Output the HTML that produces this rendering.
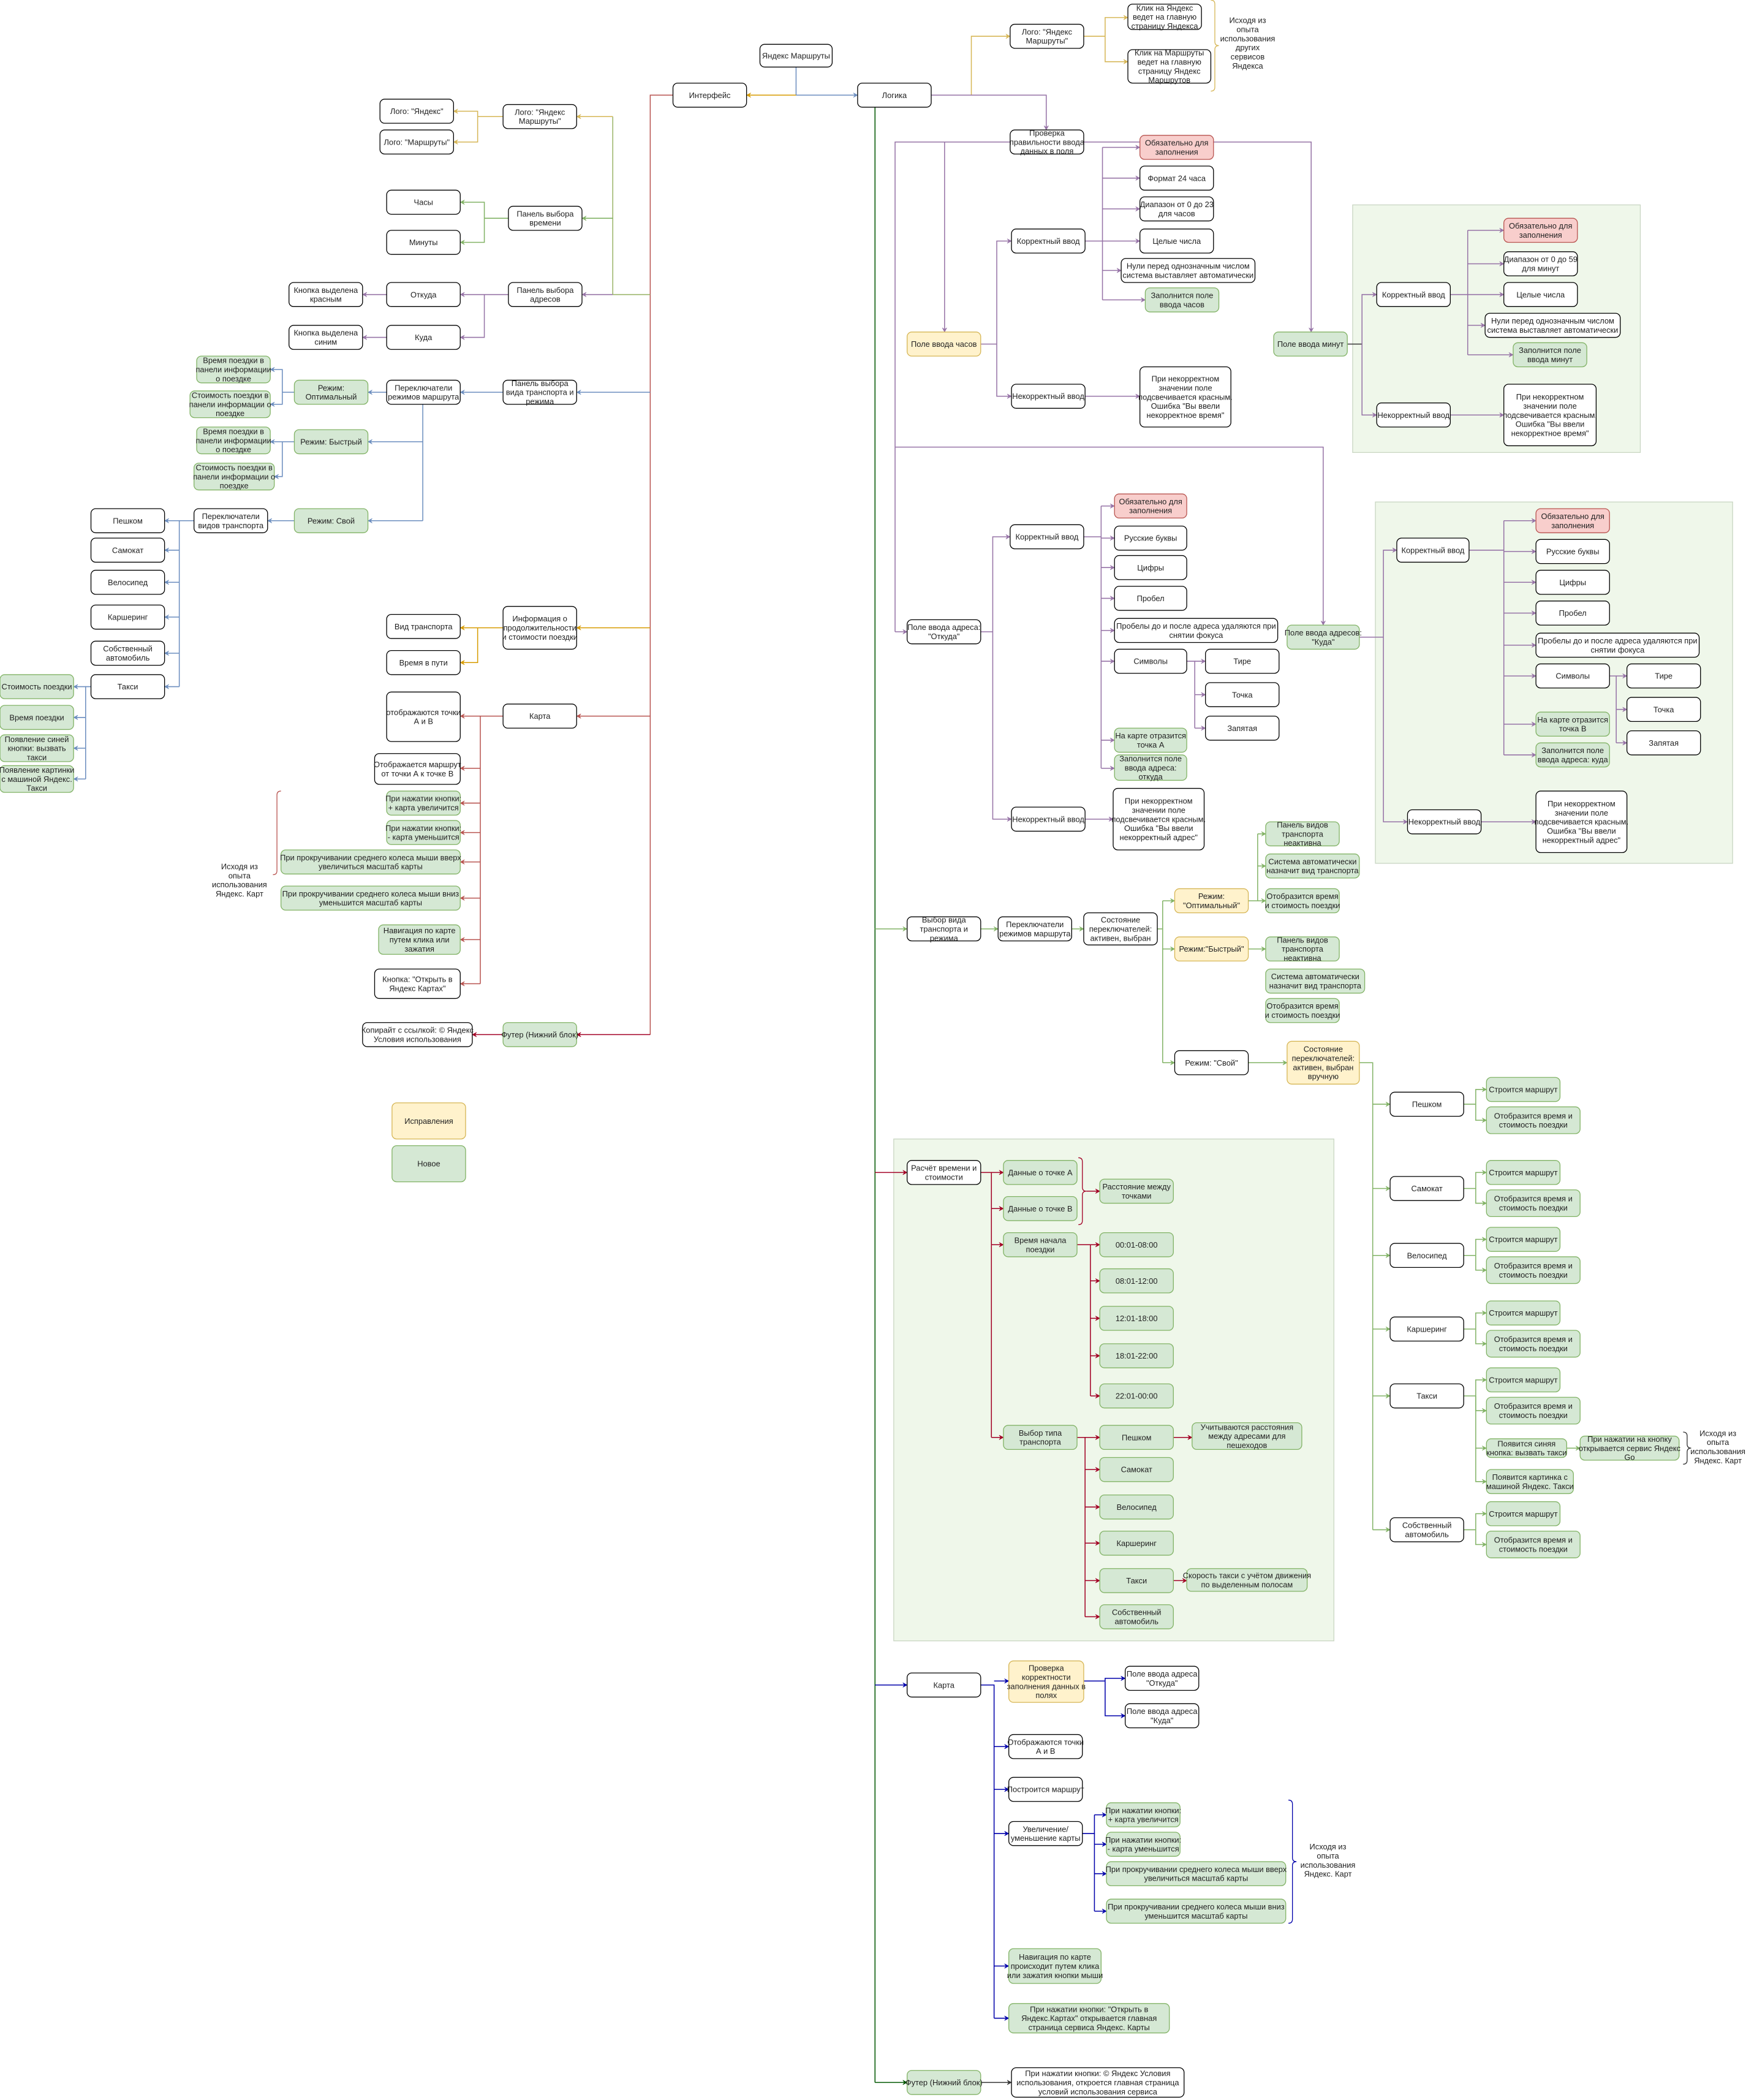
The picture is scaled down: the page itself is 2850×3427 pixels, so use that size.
<!DOCTYPE html>
<html><head><meta charset="utf-8">
<style>
html,body{margin:0;padding:0;background:#fff;}
svg{display:block;}
text{font-family:"Liberation Sans","Noto Sans CJK SC",sans-serif;font-size:5.9px;fill:#222;}
</style></head>
<body>
<svg id="s" xmlns="http://www.w3.org/2000/svg" width="2850" height="3427" viewBox="0 0 1305 1569">
<rect x="1011" y="153" width="215" height="185" fill="#eff7ea" stroke="#c9d6c3" stroke-width="0.6"/>
<rect x="1028" y="375" width="267" height="270" fill="#eff7ea" stroke="#c9d6c3" stroke-width="0.6"/>
<rect x="668" y="851" width="329" height="375" fill="#eff7ea" stroke="#c9d6c3" stroke-width="0.6"/>
<g id="edges" fill="none" stroke-width="0.7"></g>
<g id="nodes"></g>
</svg>
<script>
var NS="http://www.w3.org/2000/svg";
var svg=document.getElementById('s'),E=document.getElementById('edges'),Nd=document.getElementById('nodes');
var C={pu:"#9673a6",bl:"#6c8ebf",ye:"#d6b656",or:"#d79b00",re:"#b85450",gr:"#82b366",dr:"#a20025",dg:"#005700",nv:"#0000aa",ol:"#9bb56a",bk:"#333"};
function el(t,a,p){var e=document.createElementNS(NS,t);for(var k in a)e.setAttribute(k,a[k]);(p||svg).appendChild(e);return e;}
function line(c,pts,arrow){var d="M"+pts.map(function(p){return p[0]+","+p[1]}).join(" L");el('path',{d:d,stroke:C[c]},E);
 if(arrow){var a=pts[pts.length-1],b=pts[pts.length-2];var dx=a[0]-b[0],dy=a[1]-b[1],L=Math.sqrt(dx*dx+dy*dy)||1;dx/=L;dy/=L;
 var s=3.2,w=1.7;var p1=[a[0]-dx*s-dy*w,a[1]-dy*s+dx*w],p2=[a[0]-dx*s+dy*w,a[1]-dy*s-dx*w],p3=[a[0]-dx*s*0.6,a[1]-dy*s*0.6];
 el('path',{d:"M"+a+" L"+p1+" L"+p3+" L"+p2+" Z",fill:C[c],stroke:C[c],'stroke-width':0.3},E);}}
function A(c,pts){line(c,pts,true);}
function L(c,pts){line(c,pts,false);}
var ST={w:["#fff","#000"],g:["#d5e8d4","#82b366"],y:["#fff2cc","#d6b656"],r:["#f8cecc","#b85450"],t:["none","none"]};
function N(x1,y1,x2,y2,txt,s){s=s||'w';var st=ST[s];
 if(s!='t')el('rect',{x:x1,y:y1,width:x2-x1,height:y2-y1,rx:3.5,fill:st[0],stroke:st[1],'stroke-width':0.6},Nd);
 var lines=txt.split('|'),lh=6.8,cy=(y1+y2)/2,y0=cy-(lines.length-1)*lh/2+2.1;
 lines.forEach(function(l,i){var t=el('text',{x:(x1+x2)/2,y:y0+i*lh,'text-anchor':'middle'},Nd);t.textContent=l;});}
function brace(x,y1,y2,c,dir){dir=dir||1;var m=(y1+y2)/2,d=3*dir;
 el('path',{d:"M"+x+","+y1+" q"+d+",0 "+d+",3 L"+(x+d)+","+(m-3)+" q0,3 "+d+",3 q-"+d+",0 -"+d+",3 L"+(x+d)+","+(y2-3)+" q0,3 -"+d+",3",fill:"none",stroke:C[c],'stroke-width':0.6},E);}

// ===== TOP =====
N(568,33,622,50,"Яндекс Маршруты");
N(503,62,558,80,"Интерфейс");
N(641,62,696,80,"Логика");
L('bl',[[595,50],[595,71]]);A('or',[[595,71],[558,71]]);A('bl',[[595,71],[641,71]]);
N(755,18,810,36,"Лого: \"Яндекс|Маршруты\"");
N(843,3,898,22,"Клик на Яндекс|ведет на главную|страницу Яндекса");
N(843,37,905,62,"Клик на Маршруты|ведет на главную|страницу Яндекс|Маршрутов");
brace(905,0,68,'ye');
N(915,8,950,56,"Исходя из|опыта|использования|других|сервисов|Яндекса",'t');
A('ye',[[696,71],[726,71],[726,27],[755,27]]);
L('ye',[[810,27],[826,27]]);A('ye',[[826,27],[826,13],[843,13]]);A('ye',[[826,27],[826,46],[843,46]]);

// ===== LEFT (Interface) =====
L('re',[[503,71],[486,71],[486,773]]);
L('ol',[[486,220],[458,220],[458,87]]);
A('ye',[[458,87],[431,87]]);A('gr',[[458,163],[435,163]]);A('pu',[[458,220],[435,220]]);
N(376,78,431,96,"Лого: \"Яндекс|Маршруты\"");
N(284,74,339,92,"Лого: \"Яндекс\"");
N(284,97,339,115,"Лого: \"Маршруты\"");
L('ye',[[376,87],[357,87]]);A('ye',[[357,87],[357,83],[339,83]]);A('ye',[[357,87],[357,106],[339,106]]);
N(380,154,435,172,"Панель выбора|времени");
N(289,142,344,160,"Часы");N(289,172,344,190,"Минуты");
L('gr',[[380,163],[362,163]]);A('gr',[[362,163],[362,151],[344,151]]);A('gr',[[362,163],[362,181],[344,181]]);
N(380,211,435,229,"Панель выбора|адресов");
N(289,211,344,229,"Откуда");N(289,243,344,261,"Куда");
N(216,211,271,229,"Кнопка выделена|красным");N(216,243,271,261,"Кнопка выделена|синим");
L('pu',[[380,220],[362,220]]);A('pu',[[362,220],[344,220]]);A('pu',[[362,220],[362,252],[344,252]]);
A('pu',[[289,220],[271,220]]);A('pu',[[289,252],[271,252]]);
A('bl',[[486,293],[431,293]]);
N(376,284,431,302,"Панель выбора|вида транспорта и|режима");
A('bl',[[376,293],[344,293]]);
N(289,284,344,302,"Переключатели|режимов маршрута");
A('bl',[[289,293],[275,293]]);
L('bl',[[316,302],[316,389]]);A('bl',[[316,330],[275,330]]);A('bl',[[316,389],[275,389]]);
N(220,284,275,302,"Режим:|Оптимальный",'g');
N(147,266,202,286,"Время поездки в|панели информации|о поездке",'g');
N(142,292,202,312,"Стоимость поездки в|панели информации о|поездке",'g');
L('bl',[[220,293],[211,293]]);A('bl',[[211,293],[211,276],[202,276]]);A('bl',[[211,293],[211,302],[202,302]]);
N(220,321,275,339,"Режим: Быстрый",'g');
N(147,319,202,339,"Время поездки в|панели информации|о поездке",'g');
N(145,346,205,366,"Стоимость поездки в|панели информации о|поездке",'g');
L('bl',[[220,330],[211,330]]);A('bl',[[211,330],[202,330]]);A('bl',[[211,330],[211,356],[205,356]]);
N(220,380,275,398,"Режим: Свой",'g');
A('bl',[[220,389],[200,389]]);
N(145,380,200,398,"Переключатели|видов транспорта");
L('bl',[[145,389],[134,389],[134,513]]);
[["Пешком",380],["Самокат",402],["Велосипед",426],["Каршеринг",452],["Собственный|автомобиль",479],["Такси",504]].forEach(function(a){N(68,a[1],123,a[1]+18,a[0]);A('bl',[[134,a[1]+9],[123,a[1]+9]]);});
N(0,504,55,522,"Стоимость поездки",'g');N(0,527,55,545,"Время поездки",'g');
N(0,549,55,569,"Появление синей|кнопки: вызвать|такси",'g');N(0,572,55,592,"Появление картинки|с машиной Яндекс.|Такси",'g');
L('bl',[[68,513],[64,513],[64,582]]);[513,536,559,582].forEach(function(y){A('bl',[[64,y],[55,y]]);});
A('or',[[486,469],[431,469]]);
N(376,453,431,485,"Информация о|продолжительности|и стоимости поездки");
N(289,459,344,477,"Вид транспорта");N(289,486,344,504,"Время в пути");
L('or',[[376,469],[357,469]]);A('or',[[357,469],[344,469]]);A('or',[[357,469],[357,495],[344,495]]);
A('re',[[486,535],[431,535]]);
N(376,526,431,544,"Карта");
L('re',[[376,535],[359,535],[359,735]]);
N(289,517,344,554,"отображаются точки|А и В");
N(280,563,344,586,"Отображается маршрут|от точки А к точке В");
N(289,591,344,609,"При нажатии кнопки:|+ карта увеличится",'g');
N(289,613,344,631,"При нажатии кнопки:|- карта уменьшится",'g');
N(210,635,344,653,"При прокручивании среднего колеса мыши вверх|увеличиться масштаб карты",'g');
N(210,662,344,680,"При прокручивании среднего колеса мыши вниз|уменьшится масштаб карты",'g');
N(283,691,344,713,"Навигация по карте|путем клика или|зажатия",'g');
N(280,724,344,746,"Кнопка: \"Открыть в|Яндекс Картах\"");
[535,574,600,622,644,671,702,735].forEach(function(y){A('re',[[359,y],[344,y]]);});
brace(210,591,716,'re',-1);
N(160,640,198,675,"Исходя из|опыта|использования|Яндекс. Карт",'t');
A('dr',[[486,773],[431,773]]);
N(376,764,431,782,"Футер (Нижний блок)",'g');
A('dr',[[376,773],[353,773]]);
N(271,764,353,782,"Копирайт с ссылкой: © Яндекс|Условия использования");
N(293,824,348,851,"Исправления",'y');
N(293,856,348,883,"Новое",'g');

// ===== RIGHT: checks =====
A('pu',[[696,71],[782,71],[782,97]]);
N(755,97,810,115,"Проверка|правильности ввода|данных в поля");
L('pu',[[755,106],[669,106],[669,472]]);A('pu',[[669,472],[678,472]]);
A('pu',[[706,106],[706,248]]);
A('pu',[[669,334],[989,334],[989,467]]);
A('pu',[[810,106],[980,106],[980,248]]);
N(678,248,733,266,"Поле ввода часов",'y');
L('pu',[[733,257],[745,257]]);A('pu',[[745,257],[745,180],[756,180]]);A('pu',[[745,257],[745,296],[756,296]]);
N(756,171,811,189,"Корректный ввод");
L('pu',[[811,180],[824,180],[824,110]]);L('pu',[[824,180],[824,224]]);
[[852,110],[852,133],[852,156],[852,180],[838,202],[856,224]].forEach(function(p){A('pu',[[824,p[1]],p]);});
N(852,101,907,119,"Обязательно для|заполнения",'r');
N(852,124,907,142,"Формат 24 часа");
N(852,147,907,165,"Диапазон от 0 до 23|для часов");
N(852,171,907,189,"Целые числа");
N(838,193,938,211,"Нули перед однозначным числом|система выставляет автоматически");
N(856,215,911,233,"Заполнится поле|ввода часов",'g');
N(756,287,811,305,"Некорректный ввод");
A('pu',[[811,296],[852,296]]);
N(852,274,920,319,"При некорректном|значении поле|подсвечивается красным.|Ошибка \"Вы ввели|некорректное время\"");
// minutes panel
N(952,248,1007,266,"Поле ввода минут",'g');
L('bk',[[1007,257],[1018,257]]);A('pu',[[1018,257],[1018,220],[1029,220]]);A('pu',[[1018,257],[1018,310],[1029,310]]);
N(1029,211,1084,229,"Корректный ввод");
L('pu',[[1084,220],[1097,220],[1097,172]]);L('pu',[[1097,220],[1097,265]]);
[[1124,172],[1124,197],[1124,220],[1110,243],[1131,265]].forEach(function(p){A('pu',[[1097,p[1]],p]);});
N(1124,163,1179,181,"Обязательно для|заполнения",'r');
N(1124,188,1179,206,"Диапазон от 0 до 59|для минут");
N(1124,211,1179,229,"Целые числа");
N(1110,234,1211,252,"Нули перед однозначным числом|система выставляет автоматически");
N(1131,256,1186,274,"Заполнится поле|ввода минут",'g');
N(1029,301,1084,319,"Некорректный ввод");
A('pu',[[1084,310],[1124,310]]);
N(1124,287,1193,333,"При некорректном|значении поле|подсвечивается красным.|Ошибка \"Вы ввели|некорректное время\"");
// address from
N(678,463,733,481,"Поле ввода адреса:|\"Откуда\"");
L('pu',[[733,472],[742,472]]);A('pu',[[742,472],[742,401],[755,401]]);A('pu',[[742,472],[742,612],[756,612]]);
N(755,392,810,410,"Корректный ввод");
L('pu',[[810,401],[823,401],[823,378]]);L('pu',[[823,401],[823,574]]);
[378,402,424,447,471,494,553,574].forEach(function(y){A('pu',[[823,y],[833,y]]);});
N(833,369,887,387,"Обязательно для|заполнения",'r');
N(833,393,887,411,"Русские буквы");N(833,415,887,433,"Цифры");N(833,438,887,456,"Пробел");
N(833,462,955,480,"Пробелы до и после адреса удаляются при|снятии фокуса");
N(833,485,887,503,"Символы");
N(901,485,956,503,"Тире");N(901,510,956,528,"Точка");N(901,535,956,553,"Запятая");
L('pu',[[887,494],[893,494],[893,544]]);[494,519,544].forEach(function(y){A('pu',[[893,y],[901,y]]);});
N(833,544,887,562,"На карте отразится|точка А",'g');
N(833,564,887,583,"Заполнится поле|ввода адреса:|откуда",'g');
N(756,603,811,621,"Некорректный ввод");
A('pu',[[811,612],[832,612]]);
N(832,589,900,635,"При некорректном|значении поле|подсвечивается красным.|Ошибка \"Вы ввели|некорректный адрес\"");
// address to
N(962,467,1016,485,"Поле ввода адресов:|\"Куда\"",'g');
L('pu',[[1016,476],[1034,476]]);A('pu',[[1034,476],[1034,411],[1044,411]]);A('pu',[[1034,476],[1034,614],[1052,614]]);
N(1044,402,1098,420,"Корректный ввод");
L('pu',[[1098,411],[1124,411],[1124,389]]);L('pu',[[1124,411],[1124,564]]);
[389,412,435,458,482,505,541,564].forEach(function(y){A('pu',[[1124,y],[1148,y]]);});
N(1148,380,1203,398,"Обязательно для|заполнения",'r');
N(1148,403,1203,421,"Русские буквы");N(1148,426,1203,444,"Цифры");N(1148,449,1203,467,"Пробел");
N(1148,473,1270,491,"Пробелы до и после адреса удаляются при|снятии фокуса");
N(1148,496,1203,514,"Символы");
N(1216,496,1271,514,"Тире");N(1216,521,1271,539,"Точка");N(1216,546,1271,564,"Запятая");
L('pu',[[1203,505],[1208,505],[1208,555]]);[505,530,555].forEach(function(y){A('pu',[[1208,y],[1216,y]]);});
N(1148,532,1203,550,"На карте отразится|точка В",'g');
N(1148,555,1203,573,"Заполнится поле|ввода адреса: куда",'g');
N(1052,605,1107,623,"Некорректный ввод");
A('pu',[[1107,614],[1148,614]]);
N(1148,591,1216,637,"При некорректном|значении поле|подсвечивается красным.|Ошибка \"Вы ввели|некорректный адрес\"");

// ===== Logic spine =====
L('dg',[[654,80],[654,1556]]);
A('gr',[[654,694],[678,694]]);A('dr',[[654,876],[678,876]]);A('nv',[[654,1259],[678,1259]]);A('dg',[[654,1556],[678,1556]]);
N(678,685,733,703,"Выбор вида|транспорта и|режима");
A('gr',[[733,694],[746,694]]);
N(746,685,801,703,"Переключатели|режимов маршрута");
A('gr',[[801,694],[810,694]]);
N(810,682,865,706,"Состояние|переключателей:|активен, выбран");
L('gr',[[865,694],[869,694],[869,673]]);L('gr',[[869,694],[869,794]]);
[673,709,794].forEach(function(y){A('gr',[[869,y],[878,y]]);});
N(878,664,933,682,"Режим:|\"Оптимальный\"",'y');
L('gr',[[933,673],[940,673],[940,623]]);[623,647,673].forEach(function(y){A('gr',[[940,y],[946,y]]);});
N(946,614,1001,632,"Панель видов|транспорта|неактивна",'g');
N(946,638,1016,656,"Система автоматически|назначит вид транспорта",'g');
N(946,664,1001,682,"Отобразится время|и стоимость поездки",'g');
N(878,700,933,718,"Режим:\"Быстрый\"",'y');
A('gr',[[933,709],[946,709]]);
N(946,700,1001,718,"Панель видов|транспорта|неактивна",'g');
N(946,724,1020,742,"Система автоматически|назначит вид транспорта",'g');
N(946,746,1001,764,"Отобразится время|и стоимость поездки",'g');
N(878,785,933,803,"Режим: \"Свой\"");
A('gr',[[933,794],[962,794]]);
N(962,778,1016,810,"Состояние|переключателей:|активен, выбран|вручную",'y');
L('gr',[[1016,794],[1026,794],[1026,1143]]);
[["Пешком",816,805,827],["Самокат",879,867,889],["Велосипед",929,917,939],["Каршеринг",984,972,994],["Такси",1034,1022,1044],["Собственный|автомобиль",1134,1122,1144]].forEach(function(a){
 N(1039,a[1],1094,a[1]+18,a[0]);A('gr',[[1026,a[1]+9],[1039,a[1]+9]]);
 L('gr',[[1094,a[1]+9],[1103,a[1]+9]]);A('gr',[[1103,a[1]+9],[1103,a[2]+9],[1111,a[2]+9]]);A('gr',[[1103,a[1]+9],[1103,a[3]+10],[1111,a[3]+10]]);
 N(1111,a[2],1166,a[2]+18,"Строится маршрут",'g');N(1111,a[3],1181,a[3]+20,"Отобразится время и|стоимость поездки",'g');});
A('gr',[[1103,1043],[1103,1082],[1111,1082]]);A('gr',[[1103,1082],[1103,1107],[1111,1107]]);
N(1111,1075,1171,1089,"Появится синяя|кнопка: вызвать такси",'g');
A('gr',[[1171,1082],[1181,1082]]);
N(1181,1073,1255,1091,"При нажатии на кнопку|открывается сервис Яндекс|Go",'g');
N(1111,1098,1176,1116,"Появится картинка с|машиной Яндекс. Такси",'g');
brace(1258,1070,1094,'bk');
N(1266,1066,1302,1096,"Исходя из|опыта|использования|Яндекс. Карт",'t');

// ===== calc panel =====
N(678,867,733,885,"Расчёт времени и|стоимости");
L('dr',[[733,876],[741,876],[741,1074]]);[876,903,930,1074].forEach(function(y){A('dr',[[741,y],[750,y]]);});
N(750,867,805,885,"Данные о точке А",'g');
N(750,894,805,912,"Данные о точке В",'g');
brace(806,865,915,'dr');
A('dr',[[812,890],[822,890]]);
N(822,881,877,899,"Расстояние между|точками",'g');
N(750,921,805,939,"Время начала|поездки",'g');
L('dr',[[805,930],[815,930],[815,1043]]);
[["00:01-08:00",921],["08:01-12:00",948],["12:01-18:00",976],["18:01-22:00",1004],["22:01-00:00",1034]].forEach(function(a){N(822,a[1],877,a[1]+18,a[0],'g');A('dr',[[815,a[1]+9],[822,a[1]+9]]);});
N(750,1065,805,1083,"Выбор типа|транспорта",'g');
L('dr',[[805,1074],[811,1074],[811,1208]]);
[["Пешком",1065],["Самокат",1089],["Велосипед",1117],["Каршеринг",1144],["Такси",1172],["Собственный|автомобиль",1199]].forEach(function(a){N(822,a[1],877,a[1]+18,a[0],'g');A('dr',[[811,a[1]+9],[822,a[1]+9]]);});
A('dr',[[877,1074],[891,1074]]);
N(891,1063,973,1083,"Учитываются расстояния|между адресами для|пешеходов",'g');
A('dr',[[877,1181],[887,1181]]);
N(887,1172,977,1189,"Скорость такси с учётом движения|по выделенным полосам",'g');

// ===== Map =====
N(678,1250,733,1268,"Карта");
L('nv',[[733,1259],[743,1259],[743,1508]]);
[1256,1305,1337,1370,1469,1508].forEach(function(y){A('nv',[[743,y],[754,y]]);});
N(754,1241,810,1272,"Проверка|корректности|заполнения данных в|полях",'y');
L('nv',[[810,1256],[826,1256]]);A('nv',[[826,1256],[826,1254],[841,1254]]);A('nv',[[826,1256],[826,1282],[841,1282]]);
N(841,1245,896,1263,"Поле ввода адреса|\"Откуда\"");
N(841,1273,896,1291,"Поле ввода адреса|\"Куда\"");
N(754,1296,809,1314,"Отображаются точки|А и В");
N(754,1328,809,1346,"Построится маршрут");
N(754,1361,809,1379,"Увеличение/|уменьшение карты");
L('nv',[[809,1370],[818,1370],[818,1356]]);L('nv',[[818,1370],[818,1428]]);
[1356,1378,1400,1428].forEach(function(y){A('nv',[[818,y],[827,y]]);});
N(827,1347,882,1365,"При нажатии кнопки:|+ карта увеличится",'g');
N(827,1369,882,1387,"При нажатии кнопки:|- карта уменьшится",'g');
N(827,1391,961,1409,"При прокручивании среднего колеса мыши вверх|увеличиться масштаб карты",'g');
N(827,1419,961,1437,"При прокручивании среднего колеса мыши вниз|уменьшится масштаб карты",'g');
brace(963,1345,1437,'nv');
N(975,1375,1010,1405,"Исходя из|опыта|использования|Яндекс. Карт",'t');
N(754,1456,823,1482,"Навигация по карте|происходит путем клика|или зажатия кнопки мыши",'g');
N(754,1497,874,1519,"При нажатии кнопки: \"Открыть в|Яндекс.Картах\" открывается главная|страница сервиса Яндекс. Карты",'g');
N(678,1547,733,1565,"Футер (Нижний блок)",'g');
A('bk',[[733,1556],[756,1556]]);
N(756,1545,885,1567,"При нажатии кнопки: © Яндекс Условия|использования, откроется главная страница|условий использования сервиса");
</script>
</body></html>
